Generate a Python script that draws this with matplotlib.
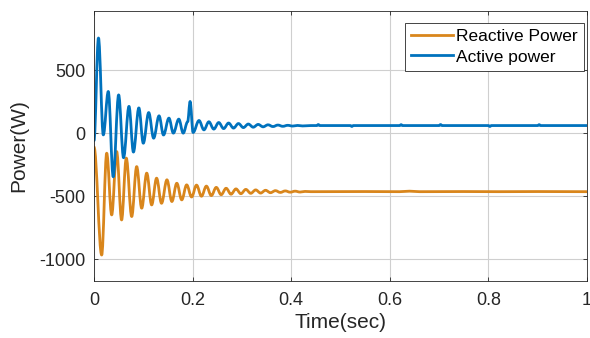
import matplotlib
matplotlib.use('Agg')
import matplotlib.pyplot as plt
from matplotlib.path import Path
from matplotlib.patches import PathPatch
from matplotlib.lines import Line2D

plt.rcParams['font.family'] = ['Liberation Sans', 'DejaVu Sans']
plt.rcParams['axes.unicode_minus'] = False

# reactive power: extrema
t_reactive = [0.0, 0.0156, 0.0258, 0.0359, 0.046, 0.056, 0.0655, 0.0765, 0.0866, 0.0968,
              0.107, 0.117, 0.127, 0.137, 0.148, 0.158, 0.168, 0.178, 0.188, 0.198,
              0.208, 0.218, 0.228, 0.238, 0.248, 0.258, 0.268, 0.278, 0.288, 0.298,
              0.308, 0.318, 0.328, 0.338, 0.348, 0.358, 0.368, 0.378, 0.388, 0.398,
              0.408, 0.418, 0.428, 0.44, 0.55, 0.62, 0.64, 0.66, 0.75, 0.82, 0.9, 1.0]
p_reactive = [-110, -966, -159, -648, -146, -688, -198, -661, -265, -595,
              -317, -569, -357, -556, -370, -542, -397, -529, -410, -506,
              -412, -500, -420, -495, -430, -488, -437, -484, -442, -480,
              -446, -477, -450, -475, -453, -472, -456, -470, -458, -468,
              -460, -467, -462, -464, -463, -464, -460, -464, -463, -464, -463, -464]

# active power: extrema
t_active = [0.0, 0.0091, 0.0189, 0.029, 0.039, 0.050, 0.060, 0.071, 0.080, 0.091,
            0.100, 0.111, 0.121, 0.132, 0.141, 0.152, 0.161, 0.172, 0.181, 0.190,
            0.195, 0.201, 0.213, 0.223, 0.233, 0.243, 0.253, 0.263, 0.273, 0.283,
            0.293, 0.303, 0.313, 0.323, 0.333, 0.343, 0.353, 0.363, 0.373, 0.383,
            0.393, 0.403, 0.413, 0.423, 0.44, 0.452, 0.455, 0.458, 0.52, 0.523, 0.526,
            0.62, 0.623, 0.626, 0.70, 0.703, 0.706, 0.80, 0.803, 0.806, 0.90, 0.903,
            0.906, 1.0]
p_active = [-60, 754, -14, 330, -346, 303, -195, 212, -150, 200,
            -80, 163, -40, 137, -15, 119, 0, 111, 0, 90,
            251, 5, 100, 26, 90, 32, 84, 36, 80, 40,
            76, 44, 72, 47, 69, 50, 66, 52, 64, 54,
            62, 56, 61, 57, 60, 60, 68, 60, 60, 53, 60,
            60, 67, 60, 60, 68, 60, 60, 53, 60, 60, 67,
            60, 60]

colors = {'Reactive Power': '#D9861C', 'Active power': '#0072BD'}


def smooth_path(t, p):
    # cubic pieces with flat tangents at each read extremum
    verts = [(t[0], p[0])]
    codes = [Path.MOVETO]
    for i in range(1, len(t)):
        dt = t[i] - t[i - 1]
        verts += [(t[i - 1] + 0.36 * dt, p[i - 1]), (t[i] - 0.36 * dt, p[i]), (t[i], p[i])]
        codes += [Path.CURVE4] * 3
    return Path(verts, codes)


fig = plt.figure(figsize=(5.9, 3.38), dpi=100)
ax = fig.add_axes([0.1593, 0.1686, 0.8356, 0.7989])

for name, t, p in [('Reactive Power', t_reactive, p_reactive), ('Active power', t_active, p_active)]:
    ax.add_patch(PathPatch(smooth_path(t, p), facecolor='none', edgecolor=colors[name],
                           linewidth=2, capstyle='round', joinstyle='round'))

ax.set_xlim(0, 1)
ax.set_ylim(-1172, 968)
ax.set_xticks([0, 0.2, 0.4, 0.6, 0.8, 1])
ax.set_xticklabels(['0', '0.2', '0.4', '0.6', '0.8', '1'])
ax.set_yticks([-1000, -500, 0, 500])
ax.grid(True, color='#cfcfcf', linewidth=0.8)
ax.set_axisbelow(True)
ax.tick_params(direction='in', length=3, width=0.6, colors='#262626', labelsize=13,
               top=True, right=True)
ax.tick_params(axis='x', pad=8)
ax.tick_params(axis='y', pad=6)
for s in ax.spines.values():
    s.set_color('#262626')
    s.set_linewidth(0.6)

ax.set_xlabel('Time(sec)', fontsize=15, color='#262626', labelpad=3)
ax.set_ylabel('Power(W)', fontsize=15, color='#262626', labelpad=8)

handles = [Line2D([], [], color=colors[n], linewidth=2) for n in colors]
leg = ax.legend(handles, list(colors), loc='upper right', bbox_to_anchor=(0.9898, 0.932),
                bbox_transform=fig.transFigure, fontsize=12.5, frameon=True, fancybox=False,
                edgecolor='#262626', framealpha=1, handlelength=2.4, handletextpad=0.2,
                borderaxespad=0, borderpad=0.35, labelspacing=0.3)
leg.get_frame().set_linewidth(0.6)

fig.savefig('out.png', dpi=100)
